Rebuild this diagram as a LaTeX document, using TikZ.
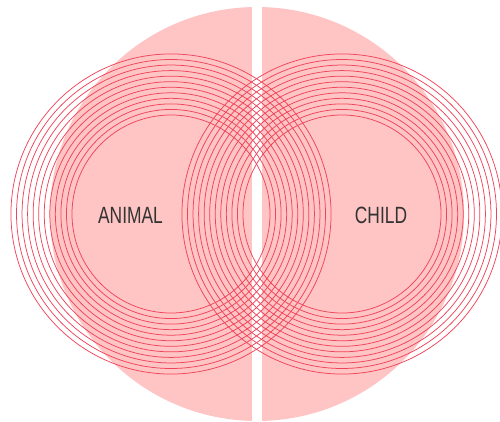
\documentclass[tikz,border=0pt]{standalone}
\usepackage{fontspec}
\setmainfont{Liberation Sans}
\definecolor{pinkfill}{HTML}{FFC4C4}
\definecolor{ringred}{HTML}{F0445A}
\definecolor{labelgray}{HTML}{333333}
\begin{document}
\begin{tikzpicture}[x=1pt,y=-1pt,
  ring/.style={draw=ringred,line width=0.75pt},
  lbl/.style={text=labelgray,font=\fontsize{23.5}{24}\selectfont,xscale=0.74,inner sep=0pt}]
\useasboundingbox (0,0) rectangle (500,422);
\fill[pinkfill] (257,214) circle[radius=207];
\fill[white] (252,0) rectangle (262,422);
\foreach \k in {0,...,11}{
  \draw[ring] (171,214) circle[radius={99+5.55*\k}];
  \draw[ring] (342,214) circle[radius={99+5.55*\k}];
}
\node[lbl] (animal) at (130.5,215.5) {ANIMAL};
\node[lbl] (child) at (381,215.5) {CHILD};
\end{tikzpicture}
\end{document}
